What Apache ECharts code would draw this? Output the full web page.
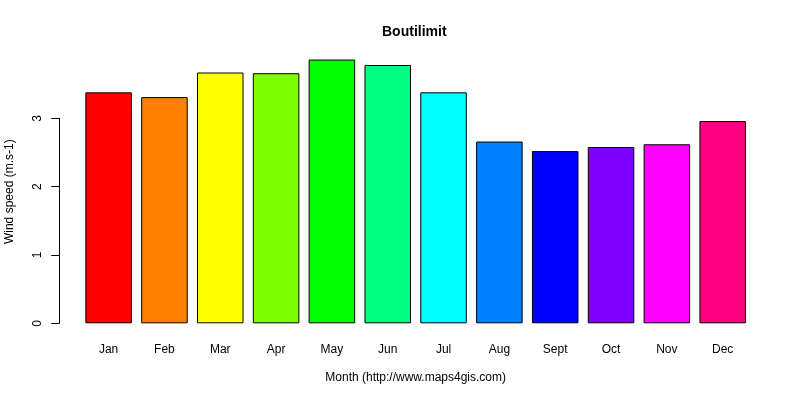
<!DOCTYPE html>
<html>
<head>
<meta charset="utf-8">
<script src="https://cdn.jsdelivr.net/npm/echarts@6/dist/echarts.min.js"></script>
<style>
html,body{margin:0;padding:0;background:#fff;}
#chart{width:800px;height:400px;}
</style>
</head>
<body>
<div id="chart"></div>
<script>
// 月份
var months = ['Jan','Feb','Mar','Apr','May','Jun','Jul','Aug','Sept','Oct','Nov','Dec'];
// 风速 (m.s-1)
var windSpeed = [3.38, 3.31, 3.67, 3.66, 3.86, 3.78, 3.38, 2.66, 2.52, 2.58, 2.62, 2.96];
// rainbow(12)
var barColors = ['#FF0000','#FF8000','#FFFF00','#80FF00','#00FF00','#00FF80',
	'#00FFFF','#0080FF','#0000FF','#8000FF','#FF00FF','#FF0080'];
var yTicks = [0, 1, 2, 3];

var myChart = echarts.init(document.getElementById('chart'));
var font = 'Liberation Sans, Arial, sans-serif';

var option = {
	animation: false,
	backgroundColor: '#fff',
	title: {
		text: 'Boutilimit',
		left: 377,
		top: 20,
		textStyle: {
			fontFamily: font,
			fontSize: 14,
			fontWeight: 'bold',
			color: '#000'
		}
	},
	grid: {
		left: 80.7,
		right: 49.4,
		top: 118.3,
		bottom: 76.7
	},
	graphic: [{
		type: 'text',
		x: 10,
		y: 191.7,
		rotation: Math.PI / 2,
		style: {
			text: 'Wind speed (m.s-1)',
			fontFamily: font,
			fontSize: 12,
			fill: '#000',
			align: 'center',
			verticalAlign: 'middle'
		}
	}],
	xAxis: {
		type: 'category',
		data: months,
		name: 'Month (http://www.maps4gis.com)',
		nameLocation: 'middle',
		nameGap: 48,
		nameTextStyle: {
			fontFamily: font,
			fontSize: 12,
			color: '#000'
		},
		axisLine: {show: false},
		axisTick: {show: false},
		axisLabel: {
			margin: 20,
			fontFamily: font,
			fontSize: 12,
			color: '#000',
			interval: 0
		}
	},
	yAxis: {
		type: 'value',
		min: yTicks[0],
		max: yTicks[yTicks.length - 1],
		interval: 1,
		offset: 21.4,
		splitLine: {show: false},
		axisLine: {show: true, lineStyle: {color: '#000', width: 1}},
		axisTick: {show: true, length: 8, lineStyle: {color: '#000', width: 1}},
		axisLabel: {
			rotate: 90,
			margin: 16,
			fontFamily: font,
			fontSize: 12,
			color: '#000'
		}
	},
	series: [{
		type: 'bar',
		data: windSpeed,
		clip: false,
		barCategoryGap: '16.67%',
		itemStyle: {
			color: function(p){ return barColors[p.dataIndex]; },
			borderColor: '#000',
			borderWidth: 1
		}
	}]
};
myChart.setOption(option, true);
</script>
</body>
</html>
